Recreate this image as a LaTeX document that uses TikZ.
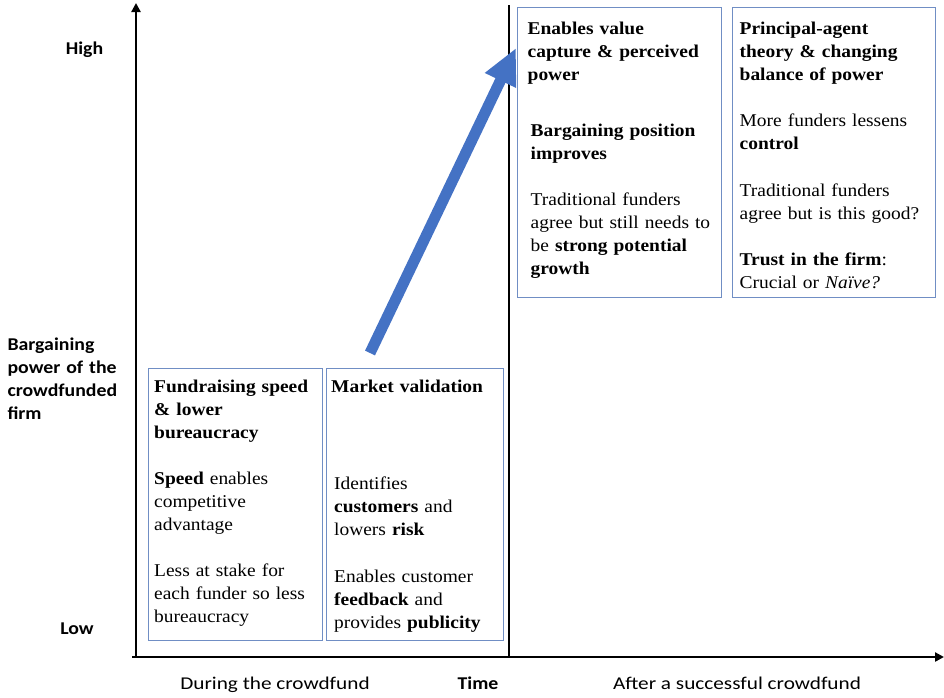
\documentclass[tikz,border=0pt]{standalone}
\usepackage{fontspec}
\setmainfont{Liberation Serif}[FakeStretch=1.08]
\newfontfamily\lblfont{Carlito}[FakeStretch=1.1]
\newfontfamily\lblfontwide{Carlito}[FakeStretch=1.18]
\usetikzlibrary{arrows.meta}
\definecolor{boxblue}{RGB}{112,142,196}
\definecolor{arrblue}{RGB}{68,114,196}
\tikzset{
  axisline/.style={line width=2.4pt, draw=black},
  infobox/.style={draw=boxblue, line width=1.4pt, fill=white, inner sep=0pt, anchor=north west},
  boxtext/.style={anchor=base west, inner sep=0pt, align=left, text width=200pt, font=\fontsize{18}{23}\selectfont},
  axlabel/.style={inner sep=0pt, font=\lblfont\bfseries\fontsize{18}{23}\selectfont},
  timelabel/.style={inner sep=0pt, anchor=base, font=\lblfontwide\fontsize{18}{23}\selectfont},
  bigarrow/.style={draw=arrblue, line width=11pt, -{Triangle[length=36pt,width=32pt]}}
}
\begin{document}
\begin{tikzpicture}[x=1pt,y=-1pt]
\useasboundingbox (0,0) rectangle (944,697);
% axes
\coordinate (origin) at (136,657);
\coordinate (ytop) at (136,3);
\coordinate (xstart) at (132,657);
\coordinate (xend) at (944,657);
\coordinate (divtop) at (509,5);
\coordinate (divbot) at (509,657);
\draw[axisline, -{Triangle[length=9pt,width=9pt]}] (origin) -- (ytop);
\draw[axisline, -{Triangle[length=9pt,width=9pt]}] (xstart) -- (xend);
\draw[line width=2pt] (divtop) -- (divbot);
% axis labels
\node[axlabel, anchor=base] (high) at (84.5,54.3) {High};
\node[axlabel, anchor=base] (low) at (77,634) {Low};
\node[axlabel, anchor=base west, align=left, text width=110pt] (ylab) at (7.3,350.7)
  {Bargaining\\power of the\\crowdfunded\\firm};
\node[timelabel] (during) at (275,689) {During the crowdfund};
\node[axlabel, anchor=base] (time) at (478,689) {Time};
\node[timelabel] (after) at (737,689) {After a successful crowdfund};
% big arrow
\coordinate (atail) at (370,353);
\coordinate (atip) at (516,48);
\draw[bigarrow] (atail) -- (atip);
% boxes
\node[infobox, minimum width=174pt, minimum height=272pt] (b1) at (148,368) {};
\node[infobox, minimum width=177pt, minimum height=272pt] (b2) at (326,368) {};
\node[infobox, minimum width=204pt, minimum height=290pt] (b3) at (517,7) {};
\node[infobox, minimum width=203pt, minimum height=290pt] (b4) at (732,7) {};
% box 1 text
\node[boxtext] (b1t) at (154,392) {\textbf{Fundraising speed}\\\textbf{\& lower}\\\textbf{bureaucracy}\\[23pt]
  \textbf{Speed} enables\\competitive\\advantage\\[23pt]
  Less at stake for\\each funder so less\\bureaucracy};
% box 2 text
\node[boxtext] (b2t) at (331,392) {\textbf{Market validation}};
\node[boxtext] (b2p) at (334,489.5) {Identifies\\\textbf{customers} and\\lowers \textbf{risk}};
\node[boxtext] (b2q) at (334,582) {Enables customer\\\textbf{feedback} and\\provides \textbf{publicity}};
% box 3 text
\node[boxtext] (b3t) at (527.5,34.3) {\textbf{Enables value}\\\textbf{capture \& perceived}\\\textbf{power}};
\node[boxtext] (b3p) at (530.5,136.7) {\textbf{Bargaining position}\\\textbf{improves}};
\node[boxtext] (b3q) at (530.5,205) {Traditional funders\\agree but still needs to\\be \textbf{strong potential}\\\textbf{growth}};
% box 4 text
\node[boxtext] (b4t) at (739.5,34.3) {\textbf{Principal-agent}\\\textbf{theory \& changing}\\\textbf{balance of power}};
\node[boxtext] (b4p) at (739.5,126.7) {More funders lessens\\\textbf{control}};
\node[boxtext] (b4q) at (739.5,196.7) {Traditional funders\\agree but is this good?};
\node[boxtext] (b4r) at (739.5,265) {\textbf{Trust in the firm}:\\Crucial or \textit{Naïve?}};
\end{tikzpicture}
\end{document}
